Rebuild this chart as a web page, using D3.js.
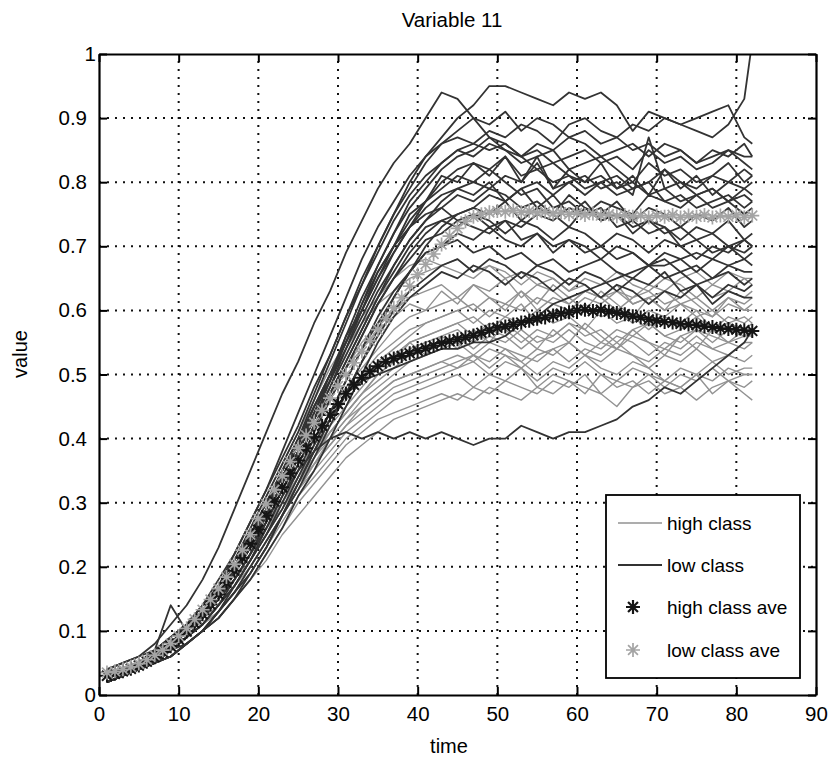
<!DOCTYPE html>
<html><head><meta charset="utf-8">
<script src="https://cdn.jsdelivr.net/npm/d3@7"></script>
<style>body{margin:0;background:#fff}text{font-family:"Liberation Sans",Arial,Helvetica,sans-serif}</style>
</head><body><svg id="c" width="835" height="761"></svg>
<script>
// ---------- data ----------
const chartTitle = "Variable 11";
const xTicks = [0,10,20,30,40,50,60,70,80,90];
const yTicks = [0,0.1,0.2,0.3,0.4,0.5,0.6,0.7,0.8,0.9,1];
const legendLabels = ["high class","low class","high class ave","low class ave"];

const lineTimes = [1,3,5,7,9,11,13,15,17,19,21,23,25,27,29,31,33,35,37,39,41,43,45,47,49,51,53,55,57,59,61,63,65,67,69,71,73,75,77,79,81,82];

// low class (dark lines)
const lowClassLines = [
[.04,.05,.06,.08,.11,.14,.18,.23,.29,.35,.41,.47,.52,.58,.63,.69,.74,.79,.83,.86,.90,.94,.93,.90,.87,.85,.84,.82,.83,.81,.80,.81,.79,.80,.78,.79,.77,.78,.76,.77,.75,.76],
[.03,.04,.05,.06,.08,.10,.13,.16,.20,.25,.30,.35,.40,.46,.52,.58,.64,.70,.75,.80,.84,.87,.90,.92,.95,.95,.94,.93,.92,.94,.93,.94,.92,.88,.91,.90,.89,.90,.91,.92,.87,.86],
[.03,.04,.05,.06,.08,.10,.12,.15,.19,.23,.28,.33,.38,.43,.49,.55,.61,.67,.72,.77,.80,.83,.85,.86,.88,.87,.89,.88,.86,.89,.90,.88,.87,.89,.88,.90,.89,.88,.87,.89,.93,1.02],
[.02,.03,.04,.05,.06,.08,.10,.13,.17,.21,.26,.31,.35,.38,.40,.41,.40,.41,.40,.41,.40,.41,.40,.39,.40,.40,.42,.41,.40,.41,.41,.42,.43,.45,.46,.48,.47,.49,.51,.53,.55,.57],
[.04,.05,.06,.07,.14,.10,.13,.17,.22,.27,.32,.38,.44,.50,.56,.62,.68,.73,.77,.81,.84,.86,.87,.86,.85,.86,.84,.85,.83,.84,.85,.83,.84,.82,.85,.83,.84,.82,.83,.85,.84,.84],
[.03,.04,.05,.07,.09,.11,.14,.18,.22,.27,.32,.37,.42,.48,.53,.59,.64,.69,.74,.78,.81,.83,.85,.84,.86,.85,.83,.84,.85,.82,.83,.84,.82,.80,.83,.81,.82,.80,.81,.83,.80,.81],
[.03,.04,.05,.06,.08,.10,.13,.16,.20,.24,.29,.34,.39,.44,.49,.54,.59,.64,.69,.73,.77,.80,.82,.83,.82,.84,.81,.82,.80,.81,.79,.80,.78,.79,.80,.77,.78,.76,.77,.78,.76,.77],
[.03,.04,.05,.07,.09,.11,.14,.17,.21,.25,.30,.35,.40,.45,.50,.55,.60,.65,.69,.73,.76,.78,.79,.80,.79,.81,.80,.84,.79,.80,.78,.80,.81,.79,.80,.82,.80,.79,.81,.80,.82,.81],
[.03,.04,.05,.06,.08,.10,.12,.15,.19,.23,.28,.33,.38,.43,.48,.53,.58,.63,.67,.71,.74,.76,.78,.77,.79,.78,.76,.77,.75,.78,.76,.75,.77,.74,.76,.75,.73,.75,.74,.76,.73,.74],
[.03,.04,.05,.06,.08,.10,.13,.16,.19,.23,.28,.33,.38,.43,.48,.54,.60,.65,.70,.74,.77,.79,.81,.80,.82,.80,.78,.79,.76,.77,.75,.76,.73,.74,.72,.73,.70,.71,.69,.70,.68,.69],
[.02,.03,.04,.06,.07,.09,.12,.15,.18,.22,.27,.32,.37,.42,.46,.51,.56,.61,.65,.69,.72,.74,.75,.76,.75,.77,.74,.76,.75,.73,.76,.74,.75,.72,.74,.73,.71,.73,.72,.74,.71,.72],
[.03,.04,.05,.06,.08,.10,.12,.15,.18,.22,.26,.31,.36,.41,.46,.51,.56,.61,.65,.68,.71,.72,.74,.73,.72,.74,.73,.75,.74,.76,.75,.77,.76,.75,.78,.77,.76,.78,.79,.77,.79,.80],
[.02,.03,.04,.05,.07,.09,.11,.14,.17,.21,.25,.30,.35,.40,.44,.49,.54,.59,.63,.66,.69,.70,.72,.71,.73,.71,.70,.72,.69,.71,.70,.68,.70,.69,.67,.69,.68,.66,.68,.67,.68,.67],
[.02,.03,.04,.05,.07,.09,.11,.14,.17,.21,.25,.29,.34,.39,.44,.49,.54,.58,.62,.66,.69,.70,.71,.69,.70,.68,.69,.67,.68,.66,.67,.68,.66,.65,.67,.65,.66,.64,.65,.66,.64,.65],
[.02,.03,.04,.05,.07,.08,.10,.13,.16,.20,.24,.28,.33,.38,.43,.47,.52,.57,.62,.66,.70,.73,.75,.76,.78,.77,.79,.80,.78,.80,.81,.79,.80,.78,.87,.79,.80,.78,.79,.77,.78,.77],
[.02,.03,.04,.05,.06,.08,.10,.13,.16,.19,.23,.28,.32,.37,.42,.47,.52,.56,.60,.63,.65,.67,.68,.66,.68,.67,.65,.67,.66,.64,.66,.65,.63,.65,.64,.66,.63,.64,.62,.64,.63,.64],
[.02,.03,.04,.05,.06,.08,.10,.12,.15,.18,.22,.26,.31,.35,.40,.45,.50,.55,.59,.62,.64,.66,.65,.67,.66,.64,.66,.65,.63,.65,.64,.62,.64,.63,.61,.63,.62,.64,.61,.63,.62,.62],
[.02,.03,.04,.05,.06,.08,.10,.12,.15,.19,.23,.28,.33,.38,.43,.47,.49,.50,.51,.52,.53,.54,.54,.55,.55,.56,.58,.59,.61,.62,.63,.64,.65,.66,.67,.67,.68,.69,.68,.70,.69,.70],
[.03,.04,.05,.07,.09,.11,.14,.17,.21,.26,.31,.36,.41,.47,.53,.59,.65,.70,.75,.79,.83,.86,.88,.90,.89,.91,.88,.90,.89,.87,.88,.86,.87,.85,.86,.84,.85,.83,.84,.85,.83,.82],
[.03,.04,.05,.06,.08,.10,.12,.15,.19,.23,.27,.32,.37,.42,.47,.52,.57,.62,.67,.71,.74,.77,.79,.78,.80,.77,.79,.76,.78,.75,.77,.74,.75,.73,.74,.72,.73,.71,.72,.70,.71,.70],
[.03,.04,.05,.06,.08,.10,.13,.16,.20,.24,.29,.34,.39,.45,.50,.56,.62,.67,.72,.76,.79,.82,.84,.85,.87,.86,.84,.86,.85,.87,.86,.84,.85,.86,.84,.86,.85,.83,.85,.84,.86,.84],
[.02,.03,.04,.06,.07,.09,.11,.14,.18,.22,.27,.32,.37,.42,.47,.52,.57,.62,.66,.70,.73,.74,.73,.75,.74,.72,.74,.73,.71,.73,.72,.70,.72,.71,.69,.71,.70,.68,.70,.69,.71,.70],
[.03,.04,.05,.07,.08,.11,.13,.17,.20,.25,.29,.35,.39,.45,.49,.56,.60,.66,.70,.75,.77,.81,.80,.83,.81,.84,.80,.83,.79,.82,.80,.83,.79,.81,.78,.82,.79,.81,.78,.80,.79,.78],
[.03,.04,.05,.06,.08,.10,.12,.16,.19,.24,.28,.33,.38,.44,.50,.55,.61,.66,.70,.73,.75,.76,.74,.75,.73,.74,.71,.72,.70,.71,.69,.70,.68,.69,.67,.68,.66,.67,.65,.67,.66,.66]
];

// high class (light lines)
const highClassLines = [
[.03,.04,.05,.06,.08,.10,.13,.16,.20,.25,.30,.35,.40,.45,.50,.54,.58,.61,.63,.65,.66,.67,.66,.65,.67,.66,.64,.66,.65,.63,.65,.64,.66,.64,.63,.65,.64,.62,.64,.63,.65,.64],
[.03,.04,.05,.06,.08,.10,.12,.15,.19,.23,.28,.33,.38,.43,.47,.51,.55,.58,.60,.62,.63,.64,.62,.64,.63,.65,.62,.64,.63,.61,.63,.62,.64,.61,.62,.63,.61,.62,.60,.62,.61,.62],
[.03,.04,.05,.06,.08,.10,.12,.15,.19,.23,.27,.32,.36,.40,.44,.48,.51,.54,.57,.59,.60,.61,.62,.60,.62,.61,.63,.60,.62,.61,.63,.62,.60,.62,.63,.61,.62,.64,.62,.63,.62,.63],
[.03,.04,.05,.06,.07,.09,.12,.15,.18,.22,.27,.31,.35,.39,.43,.47,.50,.53,.55,.57,.58,.59,.60,.58,.60,.59,.61,.58,.60,.59,.57,.60,.58,.59,.57,.59,.58,.60,.57,.59,.58,.59],
[.02,.03,.04,.05,.07,.09,.11,.14,.18,.22,.26,.30,.34,.38,.42,.45,.48,.51,.53,.55,.56,.57,.58,.59,.57,.59,.58,.60,.58,.59,.61,.59,.60,.58,.60,.59,.61,.60,.59,.61,.60,.60],
[.03,.04,.05,.06,.08,.10,.12,.15,.19,.23,.27,.31,.35,.39,.43,.46,.49,.51,.53,.55,.56,.57,.58,.56,.58,.57,.55,.57,.56,.58,.57,.55,.57,.56,.58,.56,.55,.57,.56,.55,.57,.56],
[.02,.03,.04,.05,.07,.09,.11,.14,.17,.21,.25,.29,.33,.37,.41,.44,.47,.50,.52,.54,.55,.56,.57,.55,.57,.56,.54,.56,.55,.57,.55,.54,.56,.55,.53,.55,.54,.56,.54,.55,.54,.55],
[.03,.04,.05,.06,.08,.10,.12,.15,.18,.22,.26,.30,.34,.38,.41,.44,.47,.49,.51,.53,.54,.55,.56,.54,.56,.55,.57,.55,.56,.58,.56,.57,.55,.57,.58,.56,.57,.59,.57,.58,.57,.58],
[.02,.03,.04,.05,.07,.09,.11,.13,.16,.20,.24,.28,.32,.36,.40,.43,.46,.48,.50,.52,.53,.54,.55,.53,.55,.54,.52,.54,.53,.55,.53,.52,.54,.53,.51,.53,.52,.54,.52,.53,.52,.53],
[.03,.04,.05,.06,.08,.10,.12,.15,.18,.22,.26,.30,.34,.37,.40,.43,.45,.47,.49,.50,.51,.52,.53,.52,.54,.53,.51,.53,.54,.52,.54,.53,.55,.53,.52,.54,.53,.55,.54,.53,.55,.55],
[.02,.03,.04,.05,.07,.09,.11,.14,.17,.21,.25,.29,.33,.36,.39,.42,.44,.46,.48,.49,.50,.51,.52,.53,.51,.53,.52,.50,.52,.51,.53,.51,.50,.52,.51,.49,.51,.50,.52,.50,.51,.51],
[.03,.04,.05,.06,.07,.09,.11,.14,.17,.20,.24,.28,.32,.35,.38,.41,.43,.45,.47,.48,.49,.50,.51,.52,.50,.52,.51,.49,.51,.50,.52,.50,.49,.51,.50,.48,.50,.49,.51,.49,.50,.50],
[.02,.03,.04,.05,.07,.08,.10,.13,.16,.19,.23,.27,.31,.34,.37,.40,.42,.44,.46,.47,.48,.49,.50,.48,.50,.49,.51,.48,.50,.49,.47,.50,.48,.49,.47,.49,.48,.50,.47,.49,.48,.49],
[.02,.03,.04,.05,.06,.08,.10,.12,.15,.18,.22,.26,.30,.33,.36,.39,.41,.43,.44,.45,.46,.47,.46,.48,.47,.49,.48,.47,.49,.48,.50,.47,.45,.48,.49,.47,.48,.46,.48,.49,.47,.46],
[.03,.04,.05,.06,.08,.10,.12,.15,.19,.23,.27,.31,.35,.39,.43,.46,.49,.52,.54,.56,.58,.59,.60,.61,.59,.61,.60,.62,.61,.60,.62,.61,.63,.62,.64,.63,.65,.66,.64,.66,.65,.65],
[.02,.03,.04,.05,.06,.08,.10,.12,.15,.18,.21,.25,.28,.31,.34,.37,.39,.41,.43,.44,.45,.46,.47,.46,.48,.47,.46,.48,.47,.49,.48,.47,.49,.48,.50,.49,.48,.50,.49,.51,.50,.50],
[.03,.04,.05,.07,.09,.11,.14,.17,.21,.26,.31,.36,.41,.46,.51,.55,.59,.62,.65,.67,.68,.67,.68,.66,.67,.65,.66,.64,.65,.63,.64,.62,.63,.61,.62,.60,.61,.59,.60,.58,.59,.58],
[.02,.03,.04,.05,.07,.09,.11,.13,.16,.20,.24,.28,.32,.36,.39,.42,.45,.47,.49,.50,.51,.52,.51,.53,.52,.54,.53,.52,.54,.55,.53,.55,.54,.56,.55,.54,.56,.57,.55,.57,.56,.57],
[.03,.04,.05,.07,.09,.11,.14,.17,.21,.25,.30,.34,.39,.43,.47,.51,.54,.57,.59,.61,.60,.63,.61,.64,.62,.60,.63,.61,.64,.62,.60,.63,.61,.59,.62,.60,.63,.61,.59,.62,.60,.61],
[.02,.03,.04,.06,.07,.09,.12,.14,.18,.21,.26,.29,.34,.37,.41,.44,.47,.50,.52,.55,.53,.56,.54,.57,.55,.58,.56,.54,.57,.55,.58,.56,.54,.57,.55,.53,.56,.54,.57,.55,.56,.56]
];

// class averages, one value per time step t = 1..82
const highClassAve = [
0.030,0.033,0.037,0.041,0.046,0.052,0.059,0.067,0.076,0.087,
0.099,0.112,0.126,0.141,0.157,0.175,0.194,0.214,0.236,0.258,
0.280,0.302,0.324,0.346,0.366,0.385,0.403,0.420,0.437,0.454,
0.470,0.484,0.495,0.505,0.513,0.520,0.525,0.529,0.533,0.537,
0.541,0.545,0.549,0.552,0.555,0.558,0.561,0.565,0.569,0.573,
0.575,0.578,0.581,0.584,0.587,0.589,0.592,0.595,0.597,0.600,
0.601,0.599,0.601,0.598,0.596,0.594,0.591,0.589,0.586,0.584,
0.582,0.581,0.579,0.578,0.577,0.575,0.574,0.572,0.571,0.570,
0.569,0.568];
const lowClassAve = [
0.035,0.037,0.040,0.044,0.049,0.055,0.062,0.070,0.080,0.092,
0.104,0.118,0.133,0.149,0.166,0.184,0.204,0.226,0.250,0.275,
0.298,0.320,0.342,0.364,0.385,0.405,0.425,0.444,0.463,0.482,
0.500,0.518,0.536,0.553,0.570,0.587,0.604,0.620,0.638,0.656,
0.672,0.688,0.703,0.716,0.728,0.739,0.746,0.750,0.753,0.755,
0.754,0.756,0.753,0.755,0.752,0.754,0.751,0.753,0.750,0.752,
0.749,0.751,0.748,0.750,0.747,0.749,0.746,0.748,0.745,0.748,
0.746,0.749,0.745,0.748,0.746,0.749,0.745,0.748,0.746,0.749,
0.745,0.748];

// ---------- drawing ----------
const svg = d3.select("#c");
const x = d3.scaleLinear().domain([0,90]).range([99,816]);
const y = d3.scaleLinear().domain([0,1]).range([695,54]);
const DARK = "#333333", LIGHT = "#929292", STAR_DARK = "#151515", STAR_LIGHT = "#a4a4a4";
const FONT = '"Liberation Sans",Arial,sans-serif';

svg.append("rect").attr("width",835).attr("height",761).attr("fill","#fff");
svg.append("defs").append("clipPath").attr("id","plotclip")
  .append("rect").attr("x",x(0)).attr("y",y(1)).attr("width",x(90)-x(0)).attr("height",y(0)-y(1));

// dotted grid
const grid = svg.append("g").attr("stroke","#111").attr("stroke-width",2).attr("stroke-dasharray","2,6");
grid.selectAll(".gx").data(xTicks.slice(1,-1)).join("line")
  .attr("x1",d=>x(d)).attr("x2",d=>x(d)).attr("y1",y(0)).attr("y2",y(1));
grid.selectAll(".gy").data(yTicks.slice(1,-1)).join("line")
  .attr("y1",d=>y(d)).attr("y2",d=>y(d)).attr("x1",x(0)).attr("x2",x(90));

const plot = svg.append("g").attr("clip-path","url(#plotclip)");
const line = d3.line().x((d,i)=>x(lineTimes[i])).y(d=>y(d));

plot.append("g").selectAll("path").data(highClassLines).join("path")
  .attr("d",line).attr("fill","none").attr("stroke",LIGHT).attr("stroke-width",1.4).attr("stroke-linejoin","round");
plot.append("g").selectAll("path").data(lowClassLines).join("path")
  .attr("d",line).attr("fill","none").attr("stroke",DARK).attr("stroke-width",1.8).attr("stroke-linejoin","round");

const r = 7, rd = r*0.7071;
const starPath = `M${-r},0H${r}M0,${-r}V${r}M${-rd},${-rd}L${rd},${rd}M${-rd},${rd}L${rd},${-rd}`;
function stars(data,color,w){
  plot.append("g").selectAll("path").data(data).join("path")
    .attr("transform",(d,i)=>`translate(${x(i+1)},${y(d)})`)
    .attr("d",starPath).attr("fill","none").attr("stroke",color).attr("stroke-width",w);
}
stars(highClassAve,STAR_DARK,2);
stars(lowClassAve,STAR_LIGHT,1.7);

// axes (MATLAB style box with inward ticks)
const fmt = d => (d===0||d===1) ? String(d) : d3.format(".1f")(d);
const axB = svg.append("g").attr("transform",`translate(0,${y(0)})`)
  .call(d3.axisBottom(x).tickValues(xTicks).tickSize(-8).tickSizeOuter(0).tickPadding(11).tickFormat(d3.format("d")));
const axT = svg.append("g").attr("transform",`translate(0,${y(1)})`)
  .call(d3.axisTop(x).tickValues(xTicks).tickSize(-8).tickSizeOuter(0).tickFormat(""));
const axL = svg.append("g").attr("transform",`translate(${x(0)},0)`)
  .call(d3.axisLeft(y).tickValues(yTicks).tickSize(-8).tickSizeOuter(0).tickPadding(12).tickFormat(fmt));
const axR = svg.append("g").attr("transform",`translate(${x(90)},0)`)
  .call(d3.axisRight(y).tickValues(yTicks).tickSize(-8).tickSizeOuter(0).tickFormat(""));
[axB,axT,axL,axR].forEach(a=>{
  a.selectAll(".tick line").attr("stroke","#000").attr("stroke-width",2);
  a.select(".domain").attr("stroke","#000").attr("stroke-width",2.2);
  a.selectAll("text").attr("fill","#000").attr("font-size",20.5).attr("font-family",FONT);
});
axL.selectAll(".tick text").filter(d=>d===0||d===1).attr("x",-3);

// labels
svg.append("text").attr("x",452).attr("y",27).attr("text-anchor","middle").attr("font-size",20.5).text(chartTitle);
svg.append("text").attr("x",449).attr("y",753).attr("text-anchor","middle").attr("font-size",20).text("time");
svg.append("text").attr("transform","translate(27,354) rotate(-90)").attr("text-anchor","middle").attr("font-size",20).text("value");

// legend
const lg = svg.append("g");
lg.append("rect").attr("x",606).attr("y",495).attr("width",194).attr("height",183)
  .attr("fill","#fff").attr("stroke","#000").attr("stroke-width",1.8);
const rowY = [523,565,607,650];
lg.append("line").attr("x1",618).attr("x2",662).attr("y1",rowY[0]).attr("y2",rowY[0]).attr("stroke",LIGHT).attr("stroke-width",1.5);
lg.append("line").attr("x1",618).attr("x2",662).attr("y1",rowY[1]).attr("y2",rowY[1]).attr("stroke",DARK).attr("stroke-width",1.9);
lg.append("path").attr("transform",`translate(633,${rowY[2]})`).attr("d",starPath).attr("fill","none").attr("stroke",STAR_DARK).attr("stroke-width",2.2);
lg.append("path").attr("transform",`translate(633,${rowY[3]})`).attr("d",starPath).attr("fill","none").attr("stroke",STAR_LIGHT).attr("stroke-width",1.7);
lg.selectAll(".lt").data(legendLabels).join("text")
  .attr("x",667).attr("y",(d,i)=>rowY[i]).attr("dy","0.35em").attr("font-size",19).text(d=>d);
</script></body></html>
